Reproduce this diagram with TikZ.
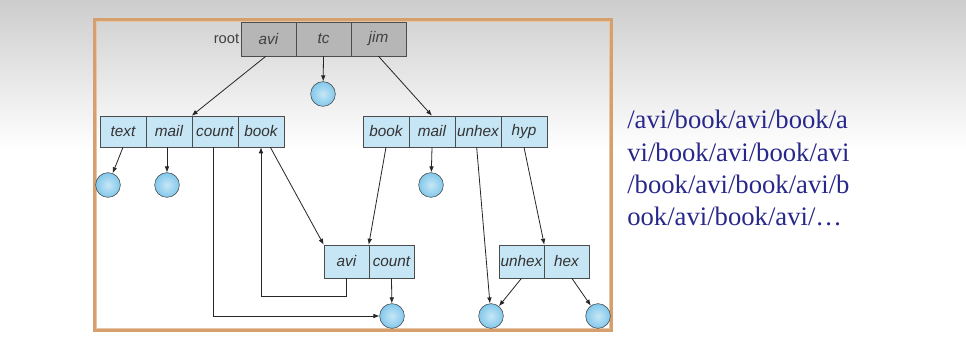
\documentclass[tikz,border=0pt]{standalone}
\usepackage{fontspec}
\setsansfont{Liberation Sans}
\newfontfamily\slidefont{Liberation Serif}
\usepackage{tikz}
\usetikzlibrary{arrows.meta}

\definecolor{framebrown}{RGB}{214,160,110}
\definecolor{cellblue}{RGB}{199,230,245}
\definecolor{ballblue}{RGB}{130,200,235}
\definecolor{rootgray}{RGB}{182,182,182}
\definecolor{pathblue}{RGB}{40,40,140}

\tikzset{
  rootcell/.style={draw=black!70, fill=rootgray, minimum width=41.25pt, minimum height=25.5pt,
    inner sep=0pt, font=\sffamily\itshape\fontsize{11.5}{13}\selectfont, text=black!75},
  dircell/.style={draw=black!70, fill=cellblue, minimum width=34.5pt, minimum height=23.25pt,
    inner sep=0pt, font=\sffamily\itshape\fontsize{11.5}{13}\selectfont, text=black!80},
  subcell/.style={dircell, minimum width=33.75pt, minimum height=24.75pt},
  leaf/.style={circle, draw=black!75, inner color=ballblue!45, outer color=ballblue,
    minimum size=18.5pt, inner sep=0pt},
  link/.style={draw=black!85, line width=0.6pt, -{Latex[length=4.5pt,width=3.5pt]}}
}

\begin{document}
\begin{tikzpicture}[x=0.75pt,y=0.75pt,yscale=-1,xscale=1]
    \useasboundingbox (0,0) rectangle (966,359);
    % backdrop
    \fill[white] (0,0) rectangle (966,359);
    \shade[top color={rgb,255:red,205;green,205;blue,205}, bottom color=white] (0,0) rectangle (966,150);
    % frame
    \draw[framebrown, line width=2.6pt] (95,20) rectangle (611,330);
    \draw[framebrown!60!white, line width=0.6pt] (96.5,21.5) rectangle (609.5,328.5);

    % root directory
    \node [rootcell] (ravi) at (268.5,39) {avi};
    \node [rootcell] (rtc) at (323.5,39) {tc};
    \node [rootcell] (rjim) at (378.5,39) {jim};
    \node [anchor=east, inner sep=1pt, font=\sffamily\fontsize{11}{12}\selectfont, text=black!75] (rootlbl) at (ravi.west) {root\hspace{5pt}};

    % directory avi
    \node [dircell] (atext) at (123,131.5) {text};
    \node [dircell] (amail) at (169,131.5) {mail};
    \node [dircell] (acount) at (215,131.5) {count};
    \node [dircell] (abook) at (261,131.5) {book};

    % directory jim
    \node [dircell] (jbook) at (386,131.5) {book};
    \node [dircell] (jmail) at (432,131.5) {mail};
    \node [dircell] (junhex) at (478,131.5) {unhex};
    \node [dircell] (jhyp) at (524,131.5) {hyp};

    % directory book
    \node [subcell] (bavi) at (346.5,261.5) {avi};
    \node [subcell] (bcount) at (391.5,261.5) {count};

    % directory hyp
    \node [subcell] (hunhex) at (521.5,261.5) {unhex};
    \node [subcell] (hhex) at (566.5,261.5) {hex};

    % files
    \node [leaf] (ftc) at (323,94) {};
    \node [leaf] (ftext) at (108,185) {};
    \node [leaf] (fmail) at (167,185) {};
    \node [leaf] (fjmail) at (431,185) {};
    \node [leaf] (fcount) at (392,316) {};
    \node [leaf] (funhex) at (491,316) {};
    \node [leaf] (fhex) at (598,316) {};

    % links
    \draw [link] ([xshift=-2pt]ravi.south) -- (acount.north west);
    \draw [link] (rtc.south) -- (ftc);
    \draw [link] (rjim.south) -- (jmail.north);
    \draw [link] (atext.south) -- (ftext);
    \draw [link] ([xshift=-1.5pt]amail.south) -- (fmail);
    \draw [link] ([xshift=-1.5pt]acount.south) |- (fcount);
    \draw [link] ([xshift=7pt]abook.south) -- (bavi.north west);
    \draw [link] (bavi.south) -- ++(0,18) -| (abook.south);
    \draw [link] (jbook.south) -- (bcount.north west);
    \draw [link] (jmail.south) -- (fjmail);
    \draw [link] (bcount.south) -- (fcount);
    \draw [link] ([xshift=-1pt]junhex.south) -- (funhex);
    \draw [link] (jhyp.south) -- (hunhex.north east);
    \draw [link] (hunhex.south) -- (funhex);
    \draw [link] ([xshift=4pt]hhex.south) -- (fhex);

    % path text
    \node [anchor=north west, align=left, inner sep=0pt, text=pathblue,
      font=\slidefont\fontsize{20}{24.2}\selectfont] (cycle) at (627,110)
      {/avi/book/avi/book/a\\vi/book/avi/book/avi\\/book/avi/book/avi/b\\ook/avi/book/avi/\dots};
\end{tikzpicture}
\end{document}
